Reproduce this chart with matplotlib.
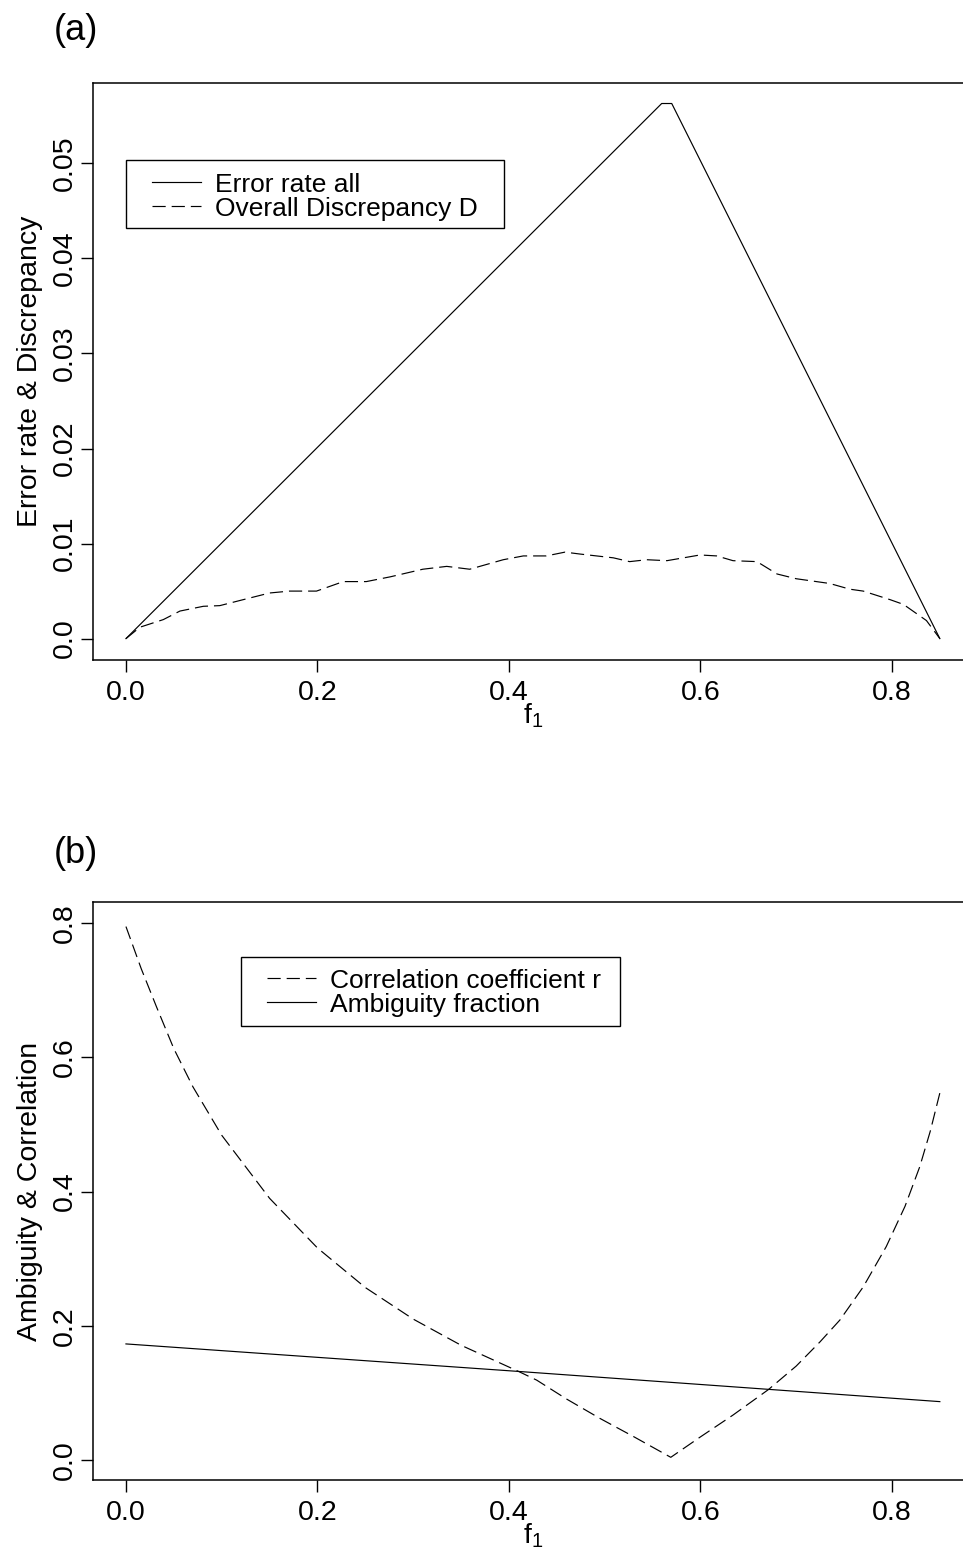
import matplotlib
matplotlib.use("Agg")
import matplotlib.pyplot as plt
from matplotlib.patches import Rectangle
from matplotlib.lines import Line2D

plt.rcParams['font.family'] = ['Liberation Sans', 'DejaVu Sans']
plt.rcParams['mathtext.fontset'] = 'custom'
plt.rcParams['mathtext.rm'] = 'Liberation Sans'
plt.rcParams['mathtext.it'] = 'Liberation Sans'
plt.rcParams['lines.scale_dashes'] = False

# ---------------- data ----------------
# panel (a)
f_err = [0.0, 0.5595, 0.570, 0.85]
err_all = [0.0, 0.0563, 0.0563, 0.0]

f_D = [0.0, 0.0146, 0.039, 0.0564, 0.0808, 0.098, 0.1225, 0.150, 0.171, 0.199,
       0.227, 0.251, 0.276, 0.310, 0.335, 0.359, 0.394, 0.415, 0.439, 0.4585,
       0.474, 0.509, 0.526, 0.544, 0.565, 0.5995, 0.617, 0.634, 0.659, 0.680,
       0.700, 0.721, 0.735, 0.756, 0.770, 0.798, 0.812, 0.836, 0.85]
D_vals = [0.0, 0.0012, 0.0020, 0.0029, 0.0034, 0.00347, 0.0041, 0.0048, 0.0050, 0.0050,
          0.0060, 0.0060, 0.0065, 0.0073, 0.0076, 0.0073, 0.0083, 0.0087, 0.0087, 0.0091,
          0.0089, 0.0085, 0.0081, 0.0083, 0.0082, 0.0088, 0.0087, 0.0082, 0.0081, 0.0068,
          0.0063, 0.0060, 0.0058, 0.0052, 0.0050, 0.0041, 0.0036, 0.0019, 0.0]

# panel (b)
f_r = [0.0, 0.016, 0.032, 0.05, 0.07, 0.1, 0.15, 0.2, 0.25, 0.3, 0.35, 0.41,
       0.429, 0.46, 0.495, 0.53, 0.569, 0.5995, 0.634, 0.671, 0.70, 0.7248,
       0.7456, 0.770, 0.794, 0.8136, 0.829, 0.84, 0.85]
r_vals = [0.795, 0.732, 0.675, 0.613, 0.556, 0.484, 0.390, 0.316, 0.257, 0.210,
          0.171, 0.132, 0.119, 0.091, 0.062, 0.035, 0.004, 0.034, 0.067, 0.105,
          0.140, 0.176, 0.2086, 0.258, 0.318, 0.378, 0.437, 0.490, 0.547]
f_amb = [0.0, 0.41, 0.85]
amb_vals = [0.173, 0.132, 0.087]

x_ticks = [0.0, 0.2, 0.4, 0.6, 0.8]
x_ticklabels = ['0.0', '0.2', '0.4', '0.6', '0.8']
ya_ticks = [0.0, 0.01, 0.02, 0.03, 0.04, 0.05]
ya_ticklabels = ['0.0', '0.01', '0.02', '0.03', '0.04', '0.05']
yb_ticks = [0.0, 0.2, 0.4, 0.6, 0.8]
yb_ticklabels = ['0.0', '0.2', '0.4', '0.6', '0.8']

# ---------------- figure ----------------
W, H = 963, 1559
fig = plt.figure(figsize=(W / 100, H / 100), dpi=100)

FS = 20.5      # axis text
FSL = 19       # legend text
DASH = (0, (9.5, 4.3))
LW = 0.85


def fx(px):
    return px / W


def fy(py):
    return 1 - py / H


def make_axes(top_px, bottom_px):
    left_px, right_px = 93.4, 972.4
    ax = fig.add_axes([fx(left_px), fy(bottom_px), (right_px - left_px) / W,
                       (bottom_px - top_px) / H])
    for s in ax.spines.values():
        s.set_linewidth(1.1)
    ax.set_xlim(-0.034, 0.884)
    ax.set_xticks(x_ticks)
    ax.set_xticklabels(x_ticklabels)
    ax.tick_params(axis='x', direction='out', length=8.5, width=1.0,
                   labelsize=FS, pad=6)
    ax.tick_params(axis='y', direction='out', length=8.5, width=1.0,
                   labelsize=FS, pad=3)
    ax.set_xlabel(r'$\mathregular{f_1}$', fontsize=FS, labelpad=-3)
    return ax


def legend_box(x0, y0, x1, y1, rows):
    fig.add_artist(Rectangle((fx(x0), fy(y1)), fx(x1) - fx(x0), fy(y0) - fy(y1),
                             transform=fig.transFigure, fill=False,
                             edgecolor='black', linewidth=1.0))
    for (ls, label, yrow) in rows:
        fig.add_artist(Line2D([fx(x0 + 26), fx(x0 + 75)], [fy(yrow), fy(yrow)],
                              transform=fig.transFigure, color='black',
                              linewidth=LW, linestyle=ls))
        fig.text(fx(x0 + 89), fy(yrow + 10), label, fontsize=FSL,
                 ha='left', va='baseline')


# panel (a)
ax1 = make_axes(82.6, 660)
ax1.plot(f_err, err_all, color='black', linewidth=LW, linestyle='-')
ax1.plot(f_D, D_vals, color='black', linewidth=LW, linestyle=DASH)
ax1.set_ylim(-0.00225, 0.0585)
ax1.set_yticks(ya_ticks)
ax1.set_yticklabels(ya_ticklabels, rotation=90, va='center')
ax1.set_ylabel('Error rate & Discrepancy', fontsize=FS, labelpad=6)
fig.text(fx(76), fy(30), '(a)', fontsize=26, ha='center', va='center')
legend_box(126, 160, 504, 228, [('-', 'Error rate all', 181.7),
                                 (DASH, 'Overall Discrepancy D', 206.2)])

# panel (b)
ax2 = make_axes(902, 1480)
ax2.plot(f_r, r_vals, color='black', linewidth=LW, linestyle=DASH)
ax2.plot(f_amb, amb_vals, color='black', linewidth=LW, linestyle='-')
ax2.set_ylim(-0.0298, 0.8316)
ax2.set_yticks(yb_ticks)
ax2.set_yticklabels(yb_ticklabels, rotation=90, va='center')
ax2.set_ylabel('Ambiguity & Correlation', fontsize=FS, labelpad=6)
fig.text(fx(76), fy(853), '(b)', fontsize=26, ha='center', va='center')
legend_box(241, 957, 620, 1026, [(DASH, 'Correlation coefficient r', 978.3),
                                  ('-', 'Ambiguity fraction', 1001.7)])

fig.savefig('out.png', dpi=100)
